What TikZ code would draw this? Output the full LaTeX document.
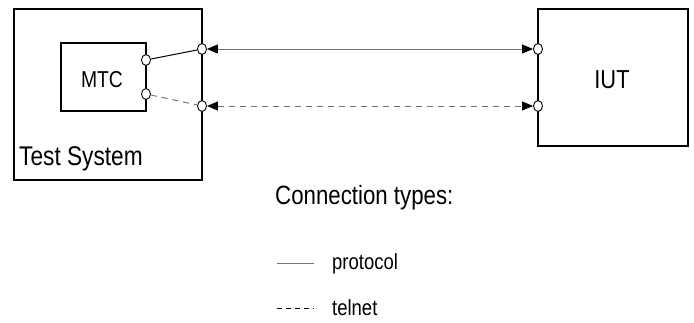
\documentclass[tikz,border=0pt]{standalone}
\usepackage{fontspec}
\setmainfont{Liberation Sans}[FakeStretch=0.84]
\usetikzlibrary{arrows.meta,shapes.geometric}
\definecolor{conngray}{gray}{0.45}
\tikzset{
  box/.style={draw=black, line width=2.2pt, fill=white, inner sep=0pt},
  port/.style={draw=black, line width=0.9pt, fill=white, ellipse, inner sep=0pt, minimum width=9pt, minimum height=11pt},
  proto/.style={draw=conngray, line width=1pt},
  teln/.style={draw=conngray, line width=1pt, dash pattern=on 6pt off 5pt},
  bitip/.style={{Triangle[length=11pt,width=9pt,color=black]}-{Triangle[length=11pt,width=9pt,color=black]}},
  lbl/.style={inner sep=0pt, anchor=west}
}
\begin{document}
\begin{tikzpicture}[x=1pt,y=-1pt]
\useasboundingbox (0,0) rectangle (694,322);
% boxes
\node[box, minimum width=188pt, minimum height=171pt] (ts) at (108,94.5) {};
\node[box, line width=2pt, minimum width=85pt, minimum height=68pt] (mtc) at (103.5,77) {};
\node[box, minimum width=150pt, minimum height=137pt] (iut) at (613,77.5) {};
% texts
\node[font=\fontsize{23}{23}\selectfont] (mtctext) at (102,80) {MTC};
\node[font=\fontsize{26}{26}\selectfont] (iuttext) at (612,80) {IUT};
\node[lbl, font=\fontsize{27}{27}\selectfont] (tstext) at (19,159) {Test System};
% ports
\node[port] (m1) at (146,60) {};
\node[port] (m2) at (146,94) {};
\node[port] (t1) at (202,49) {};
\node[port] (t2) at (202,106) {};
\node[port] (i1) at (538,49) {};
\node[port] (i2) at (538,106) {};
% connections
\draw[line width=1pt] (m1) -- (t1);
\draw[teln] (m2) -- (t2);
\draw[proto, bitip] (t1.east) -- (i1.west);
\draw[teln, bitip] (t2.east) -- (i2.west);
% legend
\node[lbl, font=\fontsize{26.5}{26.5}\selectfont] (ctypes) at (275,198) {Connection types:};
\node[lbl, font=\fontsize{22}{22}\selectfont] (ptext) at (332,264) {protocol};
\node[lbl, font=\fontsize{22}{22}\selectfont] (ttext) at (332,308) {telnet};
\coordinate (pa) at (277,263);
\coordinate (pb) at (314,263);
\coordinate (ta) at (277,308);
\coordinate (tb) at (314,308);
\draw[proto] (pa) -- (pb);
\draw[line width=1pt, draw=black, dash pattern=on 5pt off 4pt] (ta) -- (tb);
\end{tikzpicture}
\end{document}
